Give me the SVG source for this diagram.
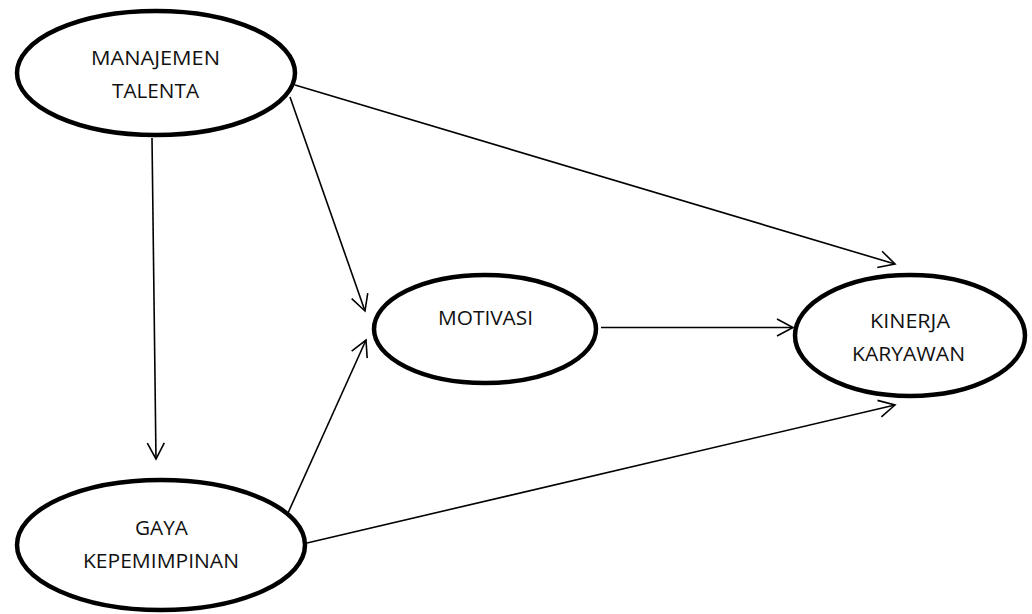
<svg xmlns="http://www.w3.org/2000/svg" width="1032" height="614" viewBox="0 0 1032 614">
  <style>
    .node { fill: #ffffff; stroke: #000000; stroke-width: 4.5; }
    .label { font-family: "Open Sans", "Liberation Sans", sans-serif; font-size: 20.5px; fill: #111111; text-anchor: middle; }
    .edge { stroke: #000000; stroke-width: 1.6; fill: none; marker-end: url(#arrow); }
  </style>
  <defs>
    <marker id="arrow" markerUnits="userSpaceOnUse" markerWidth="24" markerHeight="24" refX="0" refY="0" viewBox="-18 -12 24 24" orient="auto" overflow="visible">
      <path d="M -16 -8.5 L 0 0 L -16 8.5" fill="none" stroke="#000000" stroke-width="1.6"/>
    </marker>
  </defs>
  <rect width="1032" height="614" fill="#ffffff"/>

  <g id="connectors">
    <line class="edge" x1="152" y1="138" x2="156" y2="459"/>
    <line class="edge" x1="290" y1="97" x2="365" y2="311"/>
    <line class="edge" x1="295" y1="85" x2="895" y2="264"/>
    <line class="edge" x1="601" y1="327.5" x2="793" y2="327.5"/>
    <line class="edge" x1="288" y1="513" x2="366" y2="340"/>
    <line class="edge" x1="307" y1="543" x2="895" y2="405"/>
  </g>

  <g id="manajemen-talenta">
    <ellipse class="node" cx="156" cy="73" rx="139" ry="62"/>
    <text class="label" x="155.5" y="65" textLength="129" lengthAdjust="spacingAndGlyphs">MANAJEMEN</text>
    <text class="label" x="155.5" y="98" textLength="87" lengthAdjust="spacingAndGlyphs">TALENTA</text>
  </g>

  <g id="gaya-kepemimpinan">
    <ellipse class="node" cx="161" cy="545" rx="144" ry="65"/>
    <text class="label" x="161.5" y="535" textLength="53" lengthAdjust="spacingAndGlyphs">GAYA</text>
    <text class="label" x="161" y="568" textLength="156" lengthAdjust="spacingAndGlyphs">KEPEMIMPINAN</text>
  </g>

  <g id="motivasi">
    <ellipse class="node" cx="485" cy="329" rx="111" ry="54"/>
    <text class="label" x="485.5" y="325" textLength="95" lengthAdjust="spacingAndGlyphs">MOTIVASI</text>
  </g>

  <g id="kinerja-karyawan">
    <ellipse class="node" cx="910" cy="335.5" rx="115" ry="60.5"/>
    <text class="label" x="910" y="328" textLength="80" lengthAdjust="spacingAndGlyphs">KINERJA</text>
    <text class="label" x="908.5" y="361" textLength="113" lengthAdjust="spacingAndGlyphs">KARYAWAN</text>
  </g>
</svg>
